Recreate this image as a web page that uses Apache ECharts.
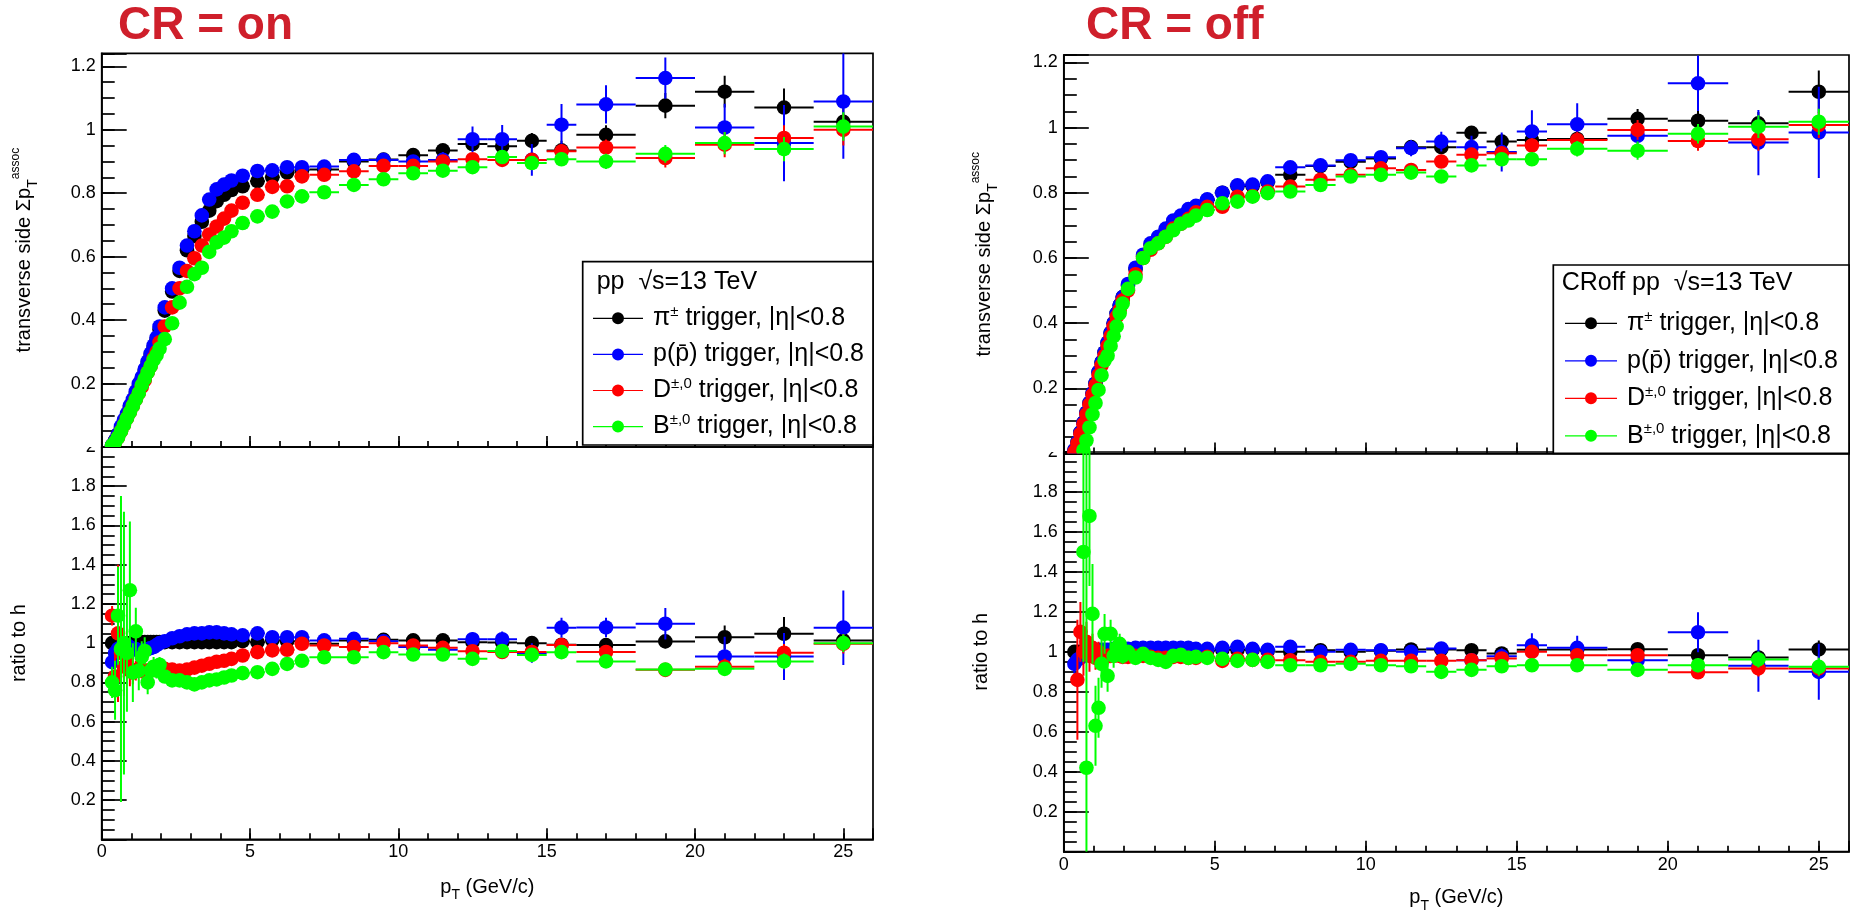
<!DOCTYPE html>
<html><head><meta charset="utf-8">
<script src="https://cdn.jsdelivr.net/npm/echarts/dist/echarts.min.js"></script>
<style>html,body{margin:0;padding:0;background:#fff}#c{width:1859px;height:917px}</style>
</head><body><div id="c"></div>
<script>
// ---------------- DATA ----------------
const binEdges = [0.3,0.4,0.5,0.6,0.7,0.8,0.9,1.0,1.1,1.2,1.3,1.4,1.5,1.6,1.7,1.8,1.9,2.0,2.25,2.5,2.75,3.0,3.25,3.5,3.75,4.0,4.25,4.5,5.0,5.5,6.0,6.5,7.0,8,9,10,11,12,13,14,15,16,18,20,22,24,26];
const seriesNames = ['pi','p','D','B'];
const seriesColors = ['#000000','#0000ff','#ff0000','#00ff00'];
const xTickLabels = [0,5,10,15,20,25];

// CR = on, top panel
const onTopPi = [0.005,0.02,0.04,0.06,0.08,0.10,0.125,0.145,0.17,0.19,0.215,0.24,0.265,0.29,0.315,0.34,0.37, 0.43,0.49,0.555,0.62,0.665,0.71,0.745,0.775,0.795,0.81, 0.822,0.838,0.85,0.865,0.872, 0.875,0.90,0.906,0.92,0.935,0.955,0.948,0.965,0.935, 0.984,1.076,1.12,1.07,1.025];
const onTopP  = [0.005,0.02,0.04,0.065,0.085,0.105,0.13,0.15,0.175,0.20,0.22,0.245,0.27,0.295,0.32,0.345,0.38, 0.44,0.50,0.565,0.635,0.68,0.73,0.78,0.812,0.827,0.84, 0.855,0.87,0.872,0.882,0.882, 0.884,0.905,0.905,0.90,0.905,0.97,0.97,0.905,1.016, 1.08,1.163,1.007,0.958,1.089];
const onTopD  = [0.0,0.015,0.03,0.05,0.07,0.09,0.11,0.13,0.15,0.17,0.19,0.21,0.235,0.255,0.28,0.30,0.33, 0.38,0.44,0.50,0.555,0.595,0.635,0.67,0.695,0.72,0.745, 0.77,0.795,0.82,0.822,0.853, 0.858,0.869,0.886,0.886,0.90,0.907,0.905,0.905,0.932, 0.944,0.911,0.953,0.974,1.0];
const onTopB  = [0.005,0.015,0.03,0.05,0.07,0.09,0.11,0.13,0.15,0.17,0.195,0.215,0.235,0.255,0.275,0.29,0.31, 0.34,0.39,0.455,0.505,0.545,0.565,0.615,0.645,0.66,0.68, 0.706,0.727,0.742,0.774,0.79, 0.803,0.826,0.844,0.863,0.871,0.882,0.914,0.895,0.907, 0.90,0.924,0.958,0.939,1.01];
const onTopPiErr = [0.003,0.003,0.003,0.003,0.003,0.003,0.003,0.003,0.003,0.003,0.003,0.003,0.003,0.003,0.003,0.003,0.003, 0.003,0.003,0.003,0.003,0.003,0.003,0.003,0.003,0.003,0.003, 0.004,0.004,0.005,0.005,0.005, 0.006,0.008,0.01,0.012,0.015,0.02,0.022,0.025,0.03, 0.03,0.04,0.05,0.06,0.05];
const onTopPErr  = [0.004,0.004,0.004,0.004,0.004,0.004,0.004,0.004,0.004,0.004,0.004,0.004,0.004,0.004,0.004,0.004,0.004, 0.004,0.004,0.004,0.004,0.004,0.004,0.004,0.004,0.004,0.004, 0.005,0.006,0.007,0.008,0.009, 0.01,0.012,0.015,0.02,0.025,0.04,0.045,0.05,0.065, 0.06,0.065,0.075,0.12,0.18];
const onTopDErr  = [0.003,0.003,0.003,0.003,0.003,0.003,0.003,0.003,0.003,0.003,0.003,0.003,0.003,0.003,0.003,0.003,0.003, 0.003,0.003,0.003,0.003,0.003,0.003,0.003,0.003,0.003,0.003, 0.004,0.004,0.004,0.005,0.005, 0.006,0.008,0.01,0.012,0.014,0.016,0.018,0.02,0.022, 0.025,0.03,0.04,0.04,0.05];
const onTopBErr  = [0.003,0.003,0.003,0.003,0.003,0.003,0.003,0.003,0.003,0.003,0.003,0.003,0.003,0.003,0.003,0.003,0.003, 0.003,0.003,0.003,0.003,0.003,0.003,0.003,0.003,0.003,0.003, 0.004,0.004,0.004,0.005,0.005, 0.005,0.007,0.009,0.011,0.013,0.015,0.017,0.019,0.021, 0.024,0.028,0.035,0.038,0.045];

// CR = on, ratio panel
const onRatPi = [1.0,1.0,1.0,1.0,1.0,1.0,1.0,1.0,1.0,1.005,1.005,1.005,1.005,1.005,1.005,1.005,1.005, 1.005,1.005,1.005,1.005,1.005,1.005,1.005,1.005,1.005,1.005, 1.01,1.005,1.015,1.01,1.01, 0.997,1.014,1.017,1.014,1.014,1.005,1.003,1.0,0.992, 0.99,1.009,1.03,1.048,1.014];
const onRatP  = [0.903,0.95,0.97,0.98,0.99,0.99,0.98,0.97,0.97,0.96,0.96,0.965,0.97,0.975,0.98,0.99,1.0, 1.01,1.025,1.035,1.045,1.05,1.05,1.055,1.055,1.05,1.045, 1.04,1.05,1.03,1.03,1.03, 1.014,1.022,1.01,0.98,0.966,1.02,1.02,0.95,1.079, 1.08,1.099,0.932,0.932,1.079];
const onRatD  = [1.14,0.83,1.05,0.95,0.88,0.92,0.86,0.85,0.86,0.87,0.86,0.86,0.86,0.86,0.865,0.865,0.865, 0.869,0.865,0.86,0.865,0.875,0.885,0.895,0.905,0.91,0.92, 0.937,0.954,0.963,0.966,0.997, 0.988,0.98,1.0,0.988,0.976,0.959,0.955,0.955,0.99, 0.955,0.864,0.88,0.951,0.997];
const onRatB  = [0.80,0.76,1.14,0.97,1.0,0.95,1.27,0.85,1.06,0.86,0.93,0.96,0.80,0.86,0.88,0.86,0.89, 0.83,0.81,0.81,0.80,0.79,0.80,0.81,0.815,0.825,0.835, 0.847,0.852,0.869,0.894,0.91, 0.928,0.928,0.954,0.942,0.942,0.92,0.96,0.94,0.954, 0.907,0.866,0.869,0.907,1.0];
const onRatPiErr = [0.02,0.015,0.012,0.01,0.01,0.008,0.008,0.007,0.007,0.006,0.006,0.006,0.006,0.006,0.006,0.006,0.006, 0.006,0.006,0.006,0.006,0.006,0.006,0.006,0.006,0.006,0.006, 0.006,0.006,0.006,0.006,0.006, 0.008,0.01,0.012,0.014,0.016,0.018,0.02,0.022,0.025, 0.03,0.035,0.06,0.085,0.05];
const onRatPErr  = [0.05,0.04,0.035,0.03,0.025,0.02,0.02,0.018,0.016,0.015,0.014,0.013,0.012,0.012,0.011,0.011,0.01, 0.01,0.01,0.01,0.01,0.01,0.01,0.01,0.01,0.01,0.01, 0.01,0.01,0.01,0.01,0.01, 0.015,0.018,0.02,0.025,0.03,0.035,0.04,0.05,0.05, 0.05,0.08,0.1,0.12,0.19];
const onRatDErr  = [0.05,0.12,0.35,0.2,0.15,0.1,0.08,0.06,0.05,0.045,0.04,0.035,0.03,0.03,0.028,0.026,0.024, 0.02,0.02,0.02,0.02,0.02,0.02,0.02,0.02,0.02,0.02, 0.015,0.015,0.015,0.015,0.015, 0.015,0.016,0.018,0.02,0.022,0.024,0.026,0.028,0.03, 0.035,0.035,0.04,0.045,0.05];
const onRatBErr  = [0.08,0.15,0.25,0.78,0.67,0.3,0.35,0.15,0.12,0.1,0.08,0.07,0.06,0.05,0.05,0.04,0.04, 0.03,0.03,0.03,0.025,0.025,0.02,0.02,0.02,0.02,0.02, 0.015,0.015,0.015,0.015,0.015, 0.015,0.015,0.015,0.015,0.015,0.02,0.02,0.02,0.02, 0.025,0.03,0.035,0.04,0.045];

// CR = off, top panel
const offTopPi = [0.01,0.035,0.065,0.095,0.125,0.155,0.185,0.215,0.25,0.28,0.31,0.34,0.37,0.40,0.43,0.455,0.48, 0.515,0.565,0.605,0.64,0.66,0.685,0.71,0.725,0.745,0.755, 0.778,0.80,0.821,0.821,0.832, 0.855,0.882,0.895,0.905,0.94,0.94,0.984,0.957,0.962, 0.965,1.027,1.021,1.013,1.11];
const offTopP  = [0.01,0.035,0.065,0.095,0.125,0.155,0.185,0.215,0.25,0.28,0.31,0.34,0.37,0.40,0.43,0.455,0.48, 0.52,0.57,0.61,0.645,0.665,0.69,0.715,0.73,0.75,0.76, 0.78,0.80,0.823,0.825,0.835, 0.878,0.884,0.90,0.909,0.937,0.957,0.94,0.925,0.988, 1.01,0.975,1.136,0.954,0.985];
const offTopD  = [0.005,0.03,0.06,0.09,0.12,0.15,0.18,0.21,0.24,0.27,0.30,0.33,0.36,0.39,0.42,0.44,0.47, 0.50,0.55,0.60,0.625,0.645,0.665,0.69,0.705,0.72,0.74, 0.757,0.757,0.788,0.79,0.804, 0.819,0.84,0.855,0.875,0.87,0.896,0.917,0.921,0.945, 0.962,0.993,0.959,0.964,1.008];
const offTopB  = [null,null,null,0.01,0.04,0.08,0.12,0.155,0.195,0.24,0.285,0.30,0.33,0.36,0.39,0.43,0.46, 0.505,0.54,0.60,0.63,0.645,0.665,0.685,0.705,0.715,0.73, 0.747,0.768,0.773,0.788,0.799, 0.804,0.824,0.85,0.855,0.862,0.85,0.884,0.903,0.903, 0.935,0.929,0.981,1.003,1.018];
const offTopPiErr = [0.003,0.003,0.003,0.003,0.003,0.003,0.003,0.003,0.003,0.003,0.003,0.003,0.003,0.003,0.003,0.003,0.003, 0.003,0.003,0.003,0.003,0.003,0.003,0.003,0.003,0.003,0.003, 0.004,0.004,0.004,0.004,0.004, 0.006,0.008,0.01,0.012,0.015,0.018,0.02,0.022,0.025, 0.03,0.03,0.03,0.035,0.065];
const offTopPErr  = [0.004,0.004,0.004,0.004,0.004,0.004,0.004,0.004,0.004,0.004,0.004,0.004,0.004,0.004,0.004,0.004,0.004, 0.004,0.004,0.004,0.004,0.004,0.004,0.004,0.004,0.004,0.004, 0.005,0.006,0.007,0.008,0.009, 0.012,0.015,0.018,0.02,0.025,0.03,0.035,0.06,0.065, 0.065,0.035,0.085,0.1,0.14];
const offTopDErr  = [0.003,0.003,0.003,0.003,0.003,0.003,0.003,0.003,0.003,0.003,0.003,0.003,0.003,0.003,0.003,0.003,0.003, 0.003,0.003,0.003,0.003,0.003,0.003,0.003,0.003,0.003,0.003, 0.004,0.004,0.004,0.004,0.004, 0.006,0.008,0.01,0.012,0.014,0.016,0.018,0.02,0.022, 0.025,0.03,0.03,0.035,0.04];
const offTopBErr  = [0,0,0,0.02,0.06,0.01,0.005,0.004,0.004,0.004,0.004,0.004,0.004,0.004,0.004,0.004,0.004, 0.003,0.003,0.003,0.003,0.003,0.003,0.003,0.003,0.003,0.003, 0.004,0.004,0.004,0.004,0.004, 0.005,0.007,0.009,0.011,0.013,0.015,0.017,0.019,0.021, 0.024,0.028,0.03,0.035,0.04];

// CR = off, ratio panel
const offRatPi = [1.0,1.0,1.0,1.0,1.0,1.0,1.0,1.0,1.0,1.0,1.005,1.005,1.005,1.005,1.005,1.005,1.005, 1.005,1.01,1.01,1.01,1.01,1.01,1.01,1.01,1.01,1.01, 1.005,1.01,1.01,1.01,1.005, 1.0,1.008,1.0,1.005,1.012,1.012,1.008,0.992,1.01, 1.012,1.013,0.983,0.972,1.012];
const offRatP  = [0.94,0.96,0.97,0.99,1.0,1.01,1.0,1.0,1.01,1.01,1.01,1.01,1.01,1.015,1.015,1.015,1.015, 1.015,1.02,1.02,1.02,1.02,1.02,1.02,1.02,1.02,1.015, 1.015,1.02,1.025,1.015,1.01, 1.025,1.0,1.01,1.008,1.0,1.017,0.958,0.978,1.033, 1.02,0.958,1.098,0.93,0.9];
const offRatD  = [null,0.86,1.1,1.0,1.05,0.98,1.02,0.97,1.0,0.98,0.97,0.98,0.98,0.98,0.985,0.98,0.975, 0.975,0.98,0.98,0.975,0.97,0.97,0.975,0.975,0.97,0.97, 0.975,0.955,0.965,0.96,0.96, 0.958,0.95,0.95,0.955,0.955,0.955,0.958,0.967,1.0, 0.983,0.983,0.898,0.917,0.917];
const offRatB  = [null,null,null,1.50,0.42,1.68,1.19,0.63,0.72,0.94,1.09,0.88,1.09,0.98,1.02,1.04,0.98, 1.0,0.97,0.99,0.97,0.96,0.95,0.98,0.985,0.97,0.975, 0.97,0.965,0.955,0.96,0.95, 0.933,0.933,0.94,0.933,0.928,0.9,0.91,0.928,0.933, 0.933,0.91,0.933,0.962,0.925];
const offRatPiErr = [0.02,0.015,0.012,0.01,0.01,0.008,0.008,0.007,0.007,0.006,0.006,0.006,0.006,0.006,0.006,0.006,0.006, 0.006,0.006,0.006,0.006,0.006,0.006,0.006,0.006,0.006,0.006, 0.006,0.006,0.006,0.006,0.006, 0.008,0.01,0.012,0.014,0.016,0.018,0.02,0.022,0.025, 0.025,0.03,0.03,0.035,0.045];
const offRatPErr  = [0.05,0.04,0.035,0.03,0.025,0.02,0.02,0.018,0.016,0.015,0.014,0.013,0.012,0.012,0.011,0.011,0.01, 0.01,0.01,0.01,0.01,0.01,0.01,0.01,0.01,0.01,0.01, 0.01,0.01,0.01,0.01,0.01, 0.015,0.018,0.02,0.022,0.025,0.03,0.035,0.04,0.06, 0.06,0.04,0.1,0.13,0.14];
const offRatDErr  = [0,0.3,0.15,0.12,0.1,0.08,0.07,0.06,0.05,0.045,0.04,0.035,0.03,0.03,0.028,0.026,0.024, 0.02,0.02,0.02,0.02,0.02,0.02,0.02,0.02,0.02,0.02, 0.015,0.015,0.015,0.015,0.015, 0.015,0.016,0.018,0.02,0.022,0.024,0.026,0.028,0.03, 0.03,0.03,0.03,0.04,0.04];
const offRatBErr  = [0,0,0,0.55,1.7,0.35,0.25,0.2,0.15,0.12,0.1,0.08,0.07,0.06,0.05,0.05,0.04, 0.03,0.03,0.025,0.025,0.02,0.02,0.02,0.02,0.02,0.02, 0.015,0.015,0.015,0.015,0.015, 0.015,0.016,0.018,0.02,0.022,0.024,0.026,0.028,0.03, 0.03,0.03,0.035,0.04,0.045];

// ---------------- CHART ----------------
const F = '"Liberation Sans", Arial, Helvetica, sans-serif';
const panels = [
  {box:{left:101.7, top:53.3, width:771.3, height:393.7}, ymax:1.241, ratio:false, vals:[onTopPi,onTopP,onTopD,onTopB], errs:[onTopPiErr,onTopPErr,onTopDErr,onTopBErr], yGap:62},
  {box:{left:101.7, top:447, width:771.3, height:392.3}, ymax:2, ratio:true, vals:[onRatPi,onRatP,onRatD,onRatB], errs:[onRatPiErr,onRatPErr,onRatDErr,onRatBErr], yGap:67, xGap:33},
  {box:{left:1063.8, top:55, width:785.2, height:398.5}, ymax:1.2228, ratio:false, vals:[offTopPi,offTopP,offTopD,offTopB], errs:[offTopPiErr,offTopPErr,offTopDErr,offTopBErr], yGap:64},
  {box:{left:1063.8, top:452, width:785.2, height:399.7}, ymax:2, ratio:true, vals:[offRatPi,offRatP,offRatD,offRatB], errs:[offRatPiErr,offRatPErr,offRatDErr,offRatBErr], yGap:67, xGap:31}
];

const black = {color:'#000', width:1.7};
const grids=[], xAxes=[], yAxes=[], series=[];

function yLabel(v){
  const k = Math.round(v*5);
  if (Math.abs(v*5-k) > 1e-6 || k === 0) return '';
  return String(+(k/5).toFixed(1));
}
function xLabel(v){ return xTickLabels.indexOf(v) >= 0 ? String(v) : ''; }

function renderItem(params, api){
  const x=api.value(0), y=api.value(1), xl=api.value(2), xh=api.value(3), e=api.value(4);
  const cs=params.coordSys;
  const X0=cs.x, X1=cs.x+cs.width, Y0=cs.y, Y1=cs.y+cs.height;
  const c=api.coord([x,y]);
  const L=api.coord([xl,y])[0], R=api.coord([xh,y])[0];
  const T=api.coord([x,y+e])[1], B=api.coord([x,y-e])[1];
  const col=api.visual('color');
  const ls={stroke:col, lineWidth:2};
  const kids=[];
  if (B > Y0 && T < Y1) {
    const a=Math.max(T,Y0), b=Math.min(B,Y1);
    if (b-a > 0.5) kids.push({type:'line', shape:{x1:c[0],y1:a,x2:c[0],y2:b}, style:ls});
  }
  if (c[1] >= Y0-0.5 && c[1] <= Y1+0.5) {
    kids.push({type:'line', shape:{x1:Math.max(L,X0),y1:c[1],x2:Math.min(R,X1),y2:c[1]}, style:ls});
    kids.push({type:'circle', shape:{cx:c[0],cy:c[1],r:7.3}, style:{fill:col}});
  }
  return {type:'group', children:kids};
}

const titleRich = {
  t:{fontSize:20, fontFamily:F, color:'#000', lineHeight:30, verticalAlign:'middle'},
  sub:{fontSize:14, fontFamily:F, color:'#000', lineHeight:30, verticalAlign:'bottom'},
  sup:{fontSize:12, fontFamily:F, color:'#000', lineHeight:30, verticalAlign:'top'}
};

panels.forEach((P, i) => {
  grids.push(Object.assign({show:true, borderColor:'#000', borderWidth:1.7, backgroundColor:'transparent', containLabel:false, outerBoundsMode:'none'}, P.box));
  xAxes.push({type:'value', gridIndex:i, min:0, max:26, interval:5, position:'bottom',
    axisLine:{show:true, lineStyle:black},
    axisTick:{show:true, inside:true, length:11, lineStyle:black},
    axisLabel:{show:P.ratio, formatter:xLabel, margin:4, fontSize:18, fontFamily:F, color:'#000'},
    splitLine:{show:false},
    name: P.ratio ? '{t|p}{sub|T}{t| (GeV/c)}' : '', nameLocation:'middle', nameGap:P.xGap || 30,
    nameTextStyle:{fontSize:20, fontFamily:F, color:'#000', rich:titleRich}
  });
  xAxes.push({type:'value', gridIndex:i, min:0, max:26, interval:1, position:'bottom',
    axisLine:{show:false}, axisTick:{show:true, inside:true, length:6, lineStyle:black},
    axisLabel:{show:false}, splitLine:{show:false}});
  yAxes.push({type:'value', gridIndex:i, min:0, max:P.ymax, interval:0.2, position:'left',
    axisLine:{show:true, lineStyle:black},
    axisTick:{show:true, inside:true, length:25, lineStyle:black},
    axisLabel:{show:true, formatter:yLabel, margin:6, fontSize:18, fontFamily:F, color:'#000', showMaxLabel:true, showMinLabel:true},
    splitLine:{show:false},
    name: P.ratio ? '{t|ratio to h}' : '{t|transverse side Σp}{sub|T}{sup|assoc}',
    nameLocation:'middle', nameRotate:90, nameGap:P.yGap,
    nameTextStyle:{fontSize:20, fontFamily:F, color:'#000', rich:titleRich}
  });
  yAxes.push({type:'value', gridIndex:i, min:0, max:P.ymax, interval:0.05, position:'left', offset:0,
    axisLine:{show:false}, axisTick:{show:true, inside:true, length:13, lineStyle:black},
    axisLabel:{show:false}, splitLine:{show:false}});

  seriesNames.forEach((nm, s) => {
    const data = [];
    P.vals[s].forEach((v, k) => {
      if (v === null || v === undefined) return;
      const lo = binEdges[k], hi = binEdges[k+1];
      data.push([(lo+hi)/2, v, lo, hi, P.errs[s][k]]);
    });
    series.push({
      type:'custom', name:nm, xAxisIndex:2*i, yAxisIndex:2*i,
      renderItem, data, clip:true, silent:true,
      itemStyle:{color:seriesColors[s]},
      encode:{x:0, y:1}, z:2
    });
  });
});

const legendText = {
  pi:'{n|π}{s|±}{n| trigger, |η|<0.8}',
  p:'{n|p(p̄) trigger, |η|<0.8}',
  D:'{n|D}{s|±,0}{n| trigger, |η|<0.8}',
  B:'{n|B}{s|±,0}{n| trigger, |η|<0.8}'
};
function mkLegend(left, top, w, gap){
  const cx = w/2;
  return {
    orient:'vertical', left, top, padding:0, itemWidth:w, itemHeight:12, itemGap:gap,
    icon:`path://M0,5.4 L${w},5.4 L${w},6.6 L0,6.6 Z M${cx-6},6 A6,6 0 1,1 ${cx+6},6 A6,6 0 1,1 ${cx-6},6 Z`,
    selectedMode:false, z:8,
    formatter:(n)=>legendText[n],
    textStyle:{fontSize:25, fontFamily:F, color:'#000', lineHeight:28, padding:[0,0,0,5],
      rich:{n:{fontSize:25, fontFamily:F, color:'#000', lineHeight:28},
            s:{fontSize:15, fontFamily:F, color:'#000', lineHeight:28, verticalAlign:'top'}}},
    data:seriesNames.slice()
  };
}

const red = '#cf1f2b';
const option = {
  animation:false,
  backgroundColor:'#fff',
  grid:grids, xAxis:xAxes, yAxis:yAxes, series,
  legend:[mkLegend(593, 304.3, 50, 8.1), mkLegend(1565, 309.3, 52, 9.5)],
  graphic:{elements:[
    {type:'text', x:118, y:26, z:10, style:{text:'CR = on', fill:red, fontSize:46, fontWeight:'bold', fontFamily:F, align:'left', verticalAlign:'middle'}},
    {type:'text', x:1086, y:26, z:10, style:{text:'CR = off', fill:red, fontSize:46, fontWeight:'bold', fontFamily:F, align:'left', verticalAlign:'middle'}},
    {type:'rect', z:5, shape:{x:582.7, y:261.7, width:873-582.7, height:445-261.7}, style:{fill:'#fff', stroke:'#000', lineWidth:1.7}},
    {type:'rect', z:5, shape:{x:1553.3, y:265, width:1849-1553.3, height:453.3-265}, style:{fill:'#fff', stroke:'#000', lineWidth:1.7}},
    {type:'text', x:596.7, y:281.7, z:9, style:{text:'pp  √s=13 TeV', fill:'#000', fontSize:25, fontFamily:F, align:'left', verticalAlign:'middle'}},
    {type:'text', x:1561.7, y:283.3, z:9, style:{text:'CRoff pp  √s=13 TeV', fill:'#000', fontSize:25, fontFamily:F, align:'left', verticalAlign:'middle'}},
    {type:'rect', z:5, shape:{x:55, y:425, width:45.5, height:22}, style:{fill:'#fff'}},
    {type:'rect', z:5, shape:{x:1015, y:430, width:47.5, height:22}, style:{fill:'#fff'}}
  ]}
};
const chart = echarts.init(document.getElementById('c'));
chart.setOption(option);
</script></body></html>
